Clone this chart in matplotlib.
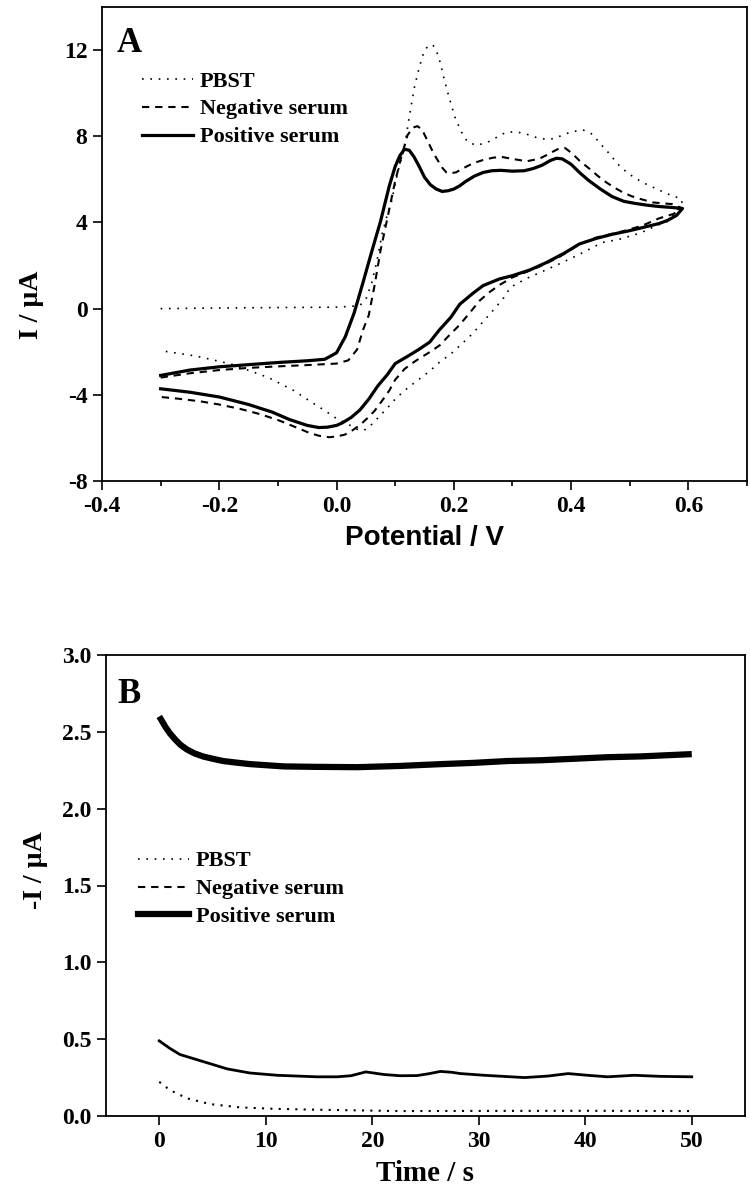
import matplotlib
matplotlib.use("Agg")
import matplotlib.pyplot as plt
from matplotlib.lines import Line2D
from matplotlib.ticker import MultipleLocator, FormatStrFormatter

plt.rcParams['font.family'] = ['Liberation Serif', 'DejaVu Serif']
plt.rcParams['font.weight'] = 'bold'
plt.rcParams['axes.unicode_minus'] = False

# ---------------- Panel A data (cyclic voltammograms) ----------------
series_labels = ["PBST", "Negative serum", "Positive serum"]

pbst_E = [-0.30, -0.20, -0.10, 0.00, 0.02, 0.03, 0.04, 0.051, 0.06, 0.068, 0.078, 0.086, 0.094, 0.104,
          0.116, 0.124, 0.133, 0.141, 0.15, 0.157, 0.164, 0.17, 0.176, 0.184, 0.193, 0.203, 0.213,
          0.223, 0.238, 0.256, 0.273, 0.29, 0.307, 0.324, 0.34, 0.358, 0.372, 0.385, 0.40, 0.42,
          0.436, 0.45, 0.465, 0.48, 0.496, 0.513, 0.53, 0.545, 0.562, 0.58, 0.59,
          0.58, 0.565, 0.55, 0.517, 0.48, 0.453, 0.42, 0.385, 0.355, 0.324, 0.297, 0.285, 0.268,
          0.25, 0.232, 0.215, 0.195, 0.175, 0.159, 0.137, 0.116, 0.10, 0.087, 0.073, 0.061, 0.046,
          0.035, 0.029, 0.015, 0.00, -0.019, -0.045, -0.073, -0.116, -0.18, -0.24, -0.30]
pbst_I = [0.0, 0.03, 0.05, 0.07, 0.10, 0.12, 0.15, 0.5, 1.2, 2.1, 3.5, 4.3, 5.0, 6.3,
          7.5, 8.9, 10.3, 11.2, 12.0, 12.2, 12.25, 12.0, 11.5, 10.6, 9.7, 8.8, 8.2,
          7.75, 7.58, 7.7, 7.95, 8.2, 8.2, 8.1, 7.95, 7.85, 7.9, 8.05, 8.2, 8.3,
          8.1, 7.65, 7.2, 6.7, 6.3, 6.0, 5.75, 5.57, 5.35, 5.17, 5.0,
          4.5, 4.05, 3.9, 3.5, 3.2, 3.07, 2.6, 2.14, 1.77, 1.4, 1.0, 0.5, -0.05,
          -0.6, -1.16, -1.6, -2.1, -2.5, -2.9, -3.35, -3.8, -4.2, -4.6, -5.0, -5.35, -5.67,
          -5.6, -5.5, -5.3, -5.1, -4.75, -4.3, -3.8, -3.2, -2.57, -2.2, -1.95]

neg_E = [-0.30, -0.25, -0.20, -0.15, -0.10, -0.05, 0.00, 0.02, 0.035, 0.045, 0.055, 0.065, 0.075,
         0.087, 0.099, 0.11, 0.121, 0.13, 0.138, 0.146, 0.155, 0.163, 0.17, 0.18, 0.187, 0.195,
         0.204, 0.215, 0.232, 0.25, 0.266, 0.28, 0.30, 0.324, 0.345, 0.36, 0.37, 0.38, 0.39,
         0.402, 0.415, 0.431, 0.446, 0.46, 0.475, 0.488, 0.503, 0.517, 0.539, 0.56, 0.573, 0.59,
         0.575, 0.55, 0.522, 0.494, 0.47, 0.443, 0.415, 0.38, 0.35, 0.33, 0.30, 0.278, 0.26,
         0.244, 0.227, 0.21, 0.19, 0.176, 0.16, 0.142, 0.128, 0.116, 0.10, 0.09, 0.077, 0.065,
         0.052, 0.04, 0.027, 0.014, 0.00, -0.012, -0.03, -0.046, -0.07, -0.097, -0.13, -0.165,
         -0.20, -0.233, -0.27, -0.30]
neg_I = [-3.2, -3.0, -2.85, -2.75, -2.68, -2.62, -2.55, -2.4, -1.9, -1.0, -0.3, 1.1, 2.7,
         4.23, 5.8, 7.0, 8.05, 8.4, 8.47, 8.3, 7.8, 7.35, 7.0, 6.55, 6.33, 6.28,
         6.33, 6.5, 6.74, 6.9, 7.0, 7.05, 6.95, 6.84, 6.95, 7.15, 7.3, 7.44, 7.45,
         7.2, 6.85, 6.5, 6.15, 5.86, 5.6, 5.4, 5.22, 5.1, 4.93, 4.88, 4.85, 4.65,
         4.4, 4.19, 3.86, 3.63, 3.47, 3.3, 3.0, 2.4, 2.0, 1.77, 1.45, 1.1, 0.75,
         0.37, -0.2, -0.75, -1.3, -1.7, -2.0, -2.3, -2.55, -2.8, -3.3, -3.8, -4.3, -4.74,
         -5.1, -5.4, -5.65, -5.85, -5.93, -5.97, -5.9, -5.77, -5.5, -5.2, -4.9, -4.65,
         -4.45, -4.3, -4.18, -4.1]

pos_E = [-0.30, -0.25, -0.20, -0.15, -0.10, -0.05, -0.02, 0.00, 0.015, 0.03, 0.045, 0.06, 0.075,
         0.09, 0.10, 0.108, 0.116, 0.124, 0.132, 0.14, 0.15, 0.16, 0.17, 0.18, 0.19, 0.20, 0.21,
         0.22, 0.235, 0.25, 0.265, 0.28, 0.30, 0.32, 0.335, 0.35, 0.365, 0.375, 0.385, 0.40,
         0.415, 0.43, 0.45, 0.47, 0.49, 0.51, 0.53, 0.55, 0.57, 0.59,
         0.58, 0.565, 0.55, 0.52, 0.50, 0.47, 0.443, 0.414, 0.39, 0.358, 0.33, 0.30, 0.278,
         0.25, 0.232, 0.21, 0.195, 0.175, 0.159, 0.14, 0.122, 0.10, 0.087, 0.07, 0.055, 0.04,
         0.025, 0.01, 0.00, -0.015, -0.03, -0.05, -0.08, -0.11, -0.15, -0.20, -0.25, -0.30]
pos_I = [-3.1, -2.85, -2.7, -2.6, -2.5, -2.42, -2.35, -2.05, -1.3, -0.2, 1.2, 2.65, 4.05,
         5.7, 6.6, 7.1, 7.4, 7.35, 7.05, 6.65, 6.1, 5.75, 5.55, 5.44, 5.47, 5.55, 5.7,
         5.9, 6.15, 6.32, 6.4, 6.42, 6.38, 6.4, 6.5, 6.65, 6.88, 6.98, 6.95, 6.7,
         6.3, 5.95, 5.55, 5.2, 4.98, 4.88, 4.8, 4.74, 4.7, 4.65,
         4.33, 4.1, 3.95, 3.75, 3.62, 3.45, 3.26, 3.0, 2.6, 2.14, 1.8, 1.53, 1.38,
         1.07, 0.7, 0.2, -0.4, -1.0, -1.55, -1.9, -2.2, -2.55, -3.05, -3.6, -4.2, -4.7,
         -5.05, -5.3, -5.42, -5.5, -5.52, -5.42, -5.15, -4.8, -4.45, -4.1, -3.88, -3.72]

# ---------------- Panel B data (chronoamperometry) ----------------
pos_t = [0, 0.3, 0.6, 1.0, 1.5, 2.0, 2.6, 3.3, 4.1, 5.0, 6.0, 7.2, 8.5, 11.7, 14.8, 18.6, 22.6,
         26.5, 29.5, 32.7, 35.8, 39.0, 42.1, 45.2, 48.4, 50]
pos_Ib = [2.60, 2.565, 2.53, 2.49, 2.45, 2.415, 2.385, 2.36, 2.34, 2.325, 2.31, 2.30, 2.29,
          2.275, 2.272, 2.27, 2.278, 2.29, 2.298, 2.31, 2.315, 2.325, 2.335, 2.34, 2.35, 2.355]

neg_t = [0, 1.0, 1.95, 3.85, 6.35, 8.5, 11.05, 14.8, 16.7, 18.0, 19.4, 20.3, 21.1, 22.6, 24.2,
         25.3, 26.4, 27.4, 28.3, 30.5, 34.3, 36.5, 38.4, 40.2, 42.1, 44.6, 47.0, 50]
neg_Ib = [0.489, 0.44, 0.40, 0.36, 0.307, 0.28, 0.265, 0.255, 0.255, 0.262, 0.287, 0.278, 0.27,
          0.262, 0.263, 0.275, 0.29, 0.285, 0.276, 0.265, 0.25, 0.26, 0.276, 0.265, 0.255,
          0.265, 0.258, 0.255]

pbst_t = [0, 1.0, 2.6, 4.8, 7.6, 10.7, 14.8, 22.6, 30, 40, 50]
pbst_Ib = [0.222, 0.169, 0.115, 0.077, 0.056, 0.047, 0.041, 0.032, 0.033, 0.034, 0.032]

# ---------------- Figure ----------------
W, H = 751, 1195
fig = plt.figure(figsize=(W / 100, H / 100), dpi=100)

def px_axes(l, t, r, b):
    return fig.add_axes([l / W, 1 - b / H, (r - l) / W, (b - t) / H])

axA = px_axes(102, 7, 747, 481)
axB = px_axes(106, 655, 745, 1116)

dot_style = (0, (1, 4))
dash_style = (0, (3.5, 2.8))

lA1, = axA.plot(pbst_E, pbst_I, color='black', lw=1.2, linestyle=dot_style)
lA2, = axA.plot(neg_E, neg_I, color='black', lw=1.5, linestyle=dash_style)
lA3, = axA.plot(pos_E, pos_I, color='black', lw=2.3, linestyle='-')

axA.set_xlim(-0.4, 0.7)
axA.set_ylim(-8, 14)
axA.set_xticks([-0.4, -0.2, 0.0, 0.2, 0.4, 0.6])
axA.xaxis.set_minor_locator(MultipleLocator(0.1))
axA.set_yticks([-8, -4, 0, 4, 8, 12])
axA.xaxis.set_major_formatter(FormatStrFormatter('%.1f'))
axA.yaxis.set_major_formatter(FormatStrFormatter('%d'))

axB.plot(pbst_t, pbst_Ib, color='black', lw=1.5, linestyle=(0, (1, 3)))
axB.plot(neg_t, neg_Ib, color='black', lw=2.0, linestyle='-')
axB.plot(pos_t, pos_Ib, color='black', lw=4.5, linestyle='-', solid_capstyle='butt')

axB.set_xlim(-5, 55)
axB.set_ylim(0, 3.0)
axB.set_xticks([0, 10, 20, 30, 40, 50])
axB.set_yticks([0.0, 0.5, 1.0, 1.5, 2.0, 2.5, 3.0])
axB.yaxis.set_major_formatter(FormatStrFormatter('%.1f'))

for ax in (axA, axB):
    for sp in ax.spines.values():
        sp.set_linewidth(1.3)
    ax.tick_params(which='major', direction='out', length=6.5, width=1.2, labelsize=17,
                   top=False, right=False, pad=4)
    ax.tick_params(which='minor', direction='out', length=3.5, width=1.2, top=False, right=False)
axB.minorticks_off()
axA.yaxis.set_minor_locator(plt.NullLocator())

# Axis labels
axA.set_xlabel("Potential / V", fontsize=20, fontweight='bold', family=['Liberation Sans', 'DejaVu Sans'])
axA.set_ylabel("I / \u00b5A", fontsize=20, fontweight='bold')
axA.xaxis.set_label_coords(0.50, -0.093)
axA.yaxis.set_label_coords(-0.09, 0.371)

axB.set_xlabel("Time / s", fontsize=21, fontweight='bold')
axB.set_ylabel("-I / \u00b5A", fontsize=20, fontweight='bold')
axB.xaxis.set_label_coords(0.50, -0.095)
axB.yaxis.set_label_coords(-0.09, 0.534)

# Panel letters
axA.text(0.023, 0.905, "A", transform=axA.transAxes, fontsize=25, fontweight='bold', va='baseline')
axB.text(0.018, 0.896, "B", transform=axB.transAxes, fontsize=25, fontweight='bold', va='baseline')

# Legends
axA.legend([lA1, lA2, lA3], series_labels, loc='upper left', bbox_to_anchor=(0.062, 0.865),
           frameon=False, fontsize=16, handlelength=2.3, handletextpad=0.3,
           labelspacing=0.33, borderpad=0, borderaxespad=0)

hB = [Line2D([], [], color='black', lw=1.2, linestyle=(0, (1, 4))),
      Line2D([], [], color='black', lw=1.5, linestyle=(0, (3.5, 2.8))),
      Line2D([], [], color='black', lw=4.5, linestyle='-')]
axB.legend(hB, series_labels, loc='upper left', bbox_to_anchor=(0.05, 0.575),
           frameon=False, fontsize=16, handlelength=2.3, handletextpad=0.3,
           labelspacing=0.33, borderpad=0, borderaxespad=0)

fig.savefig("out.png", dpi=100)
